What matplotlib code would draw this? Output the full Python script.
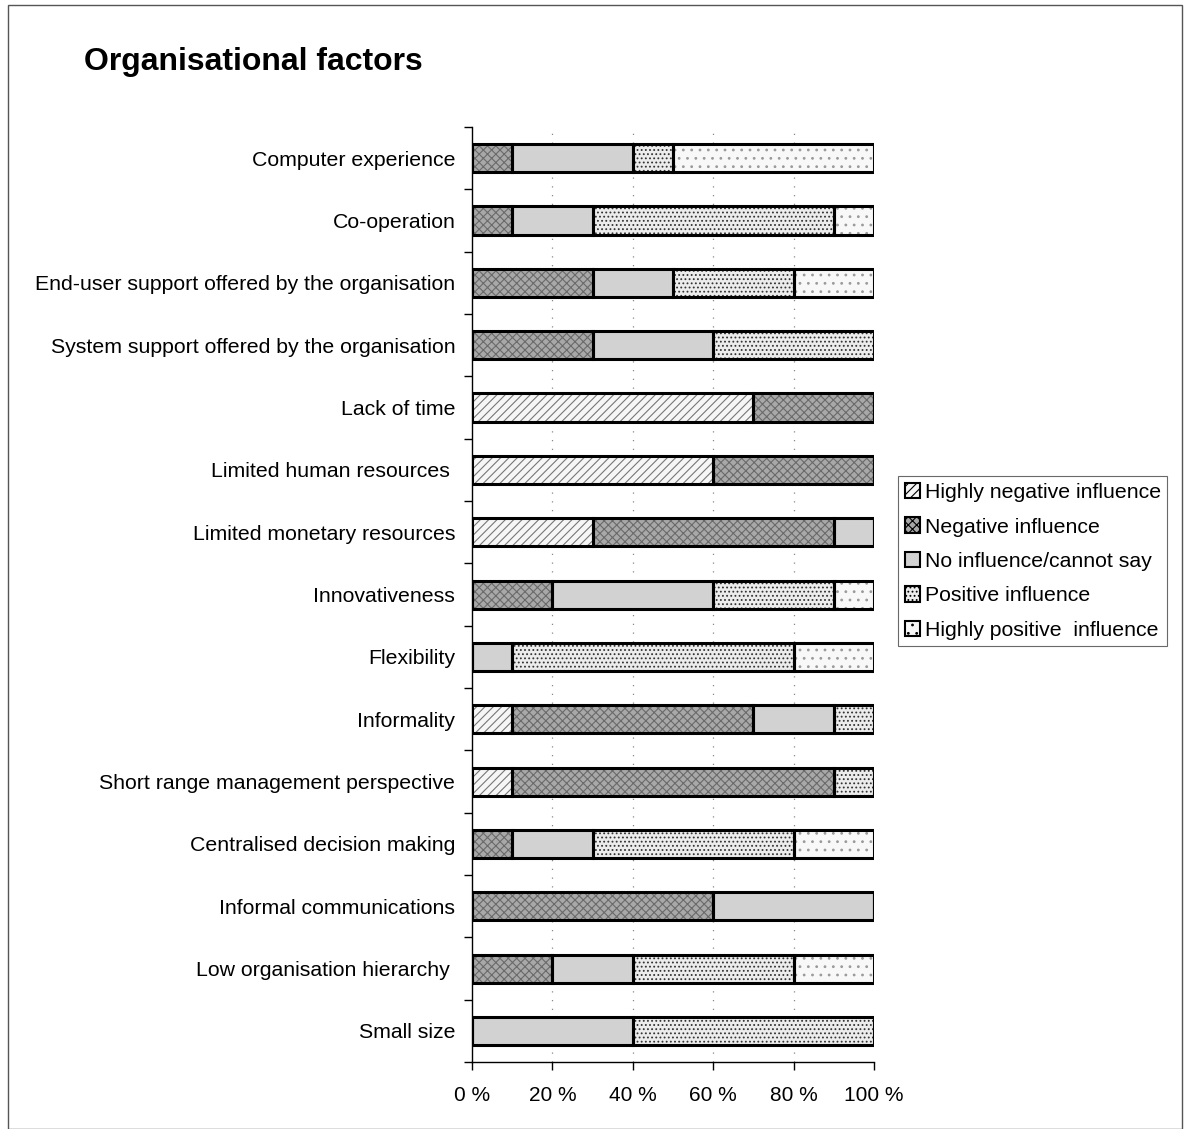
import matplotlib.pyplot as plt
import numpy as np
from matplotlib.patches import Patch, Rectangle

plt.rcParams['font.family'] = ['Liberation Sans', 'DejaVu Sans']
plt.rcParams['hatch.linewidth'] = 0.8

# Share of answers (%) per factor, listed top to bottom
categories = [
    "Computer experience",
    "Co-operation",
    "End-user support offered by the organisation",
    "System support offered by the organisation",
    "Lack of time",
    "Limited human resources ",
    "Limited monetary resources",
    "Innovativeness",
    "Flexibility",
    "Informality",
    "Short range management perspective",
    "Centralised decision making",
    "Informal communications",
    "Low organisation hierarchy ",
    "Small size",
]
highly_negative = [0, 0, 0, 0, 70, 60, 30, 0, 0, 10, 10, 0, 0, 0, 0]
negative = [10, 10, 30, 30, 30, 40, 60, 20, 0, 60, 80, 10, 60, 20, 0]
no_influence = [30, 20, 20, 30, 0, 0, 10, 40, 10, 20, 0, 20, 40, 20, 40]
positive = [10, 60, 30, 40, 0, 0, 0, 30, 70, 10, 10, 50, 0, 40, 60]
highly_positive = [50, 10, 20, 0, 0, 0, 0, 10, 20, 0, 0, 20, 0, 20, 0]

series_names = ["Highly negative influence", "Negative influence",
                "No influence/cannot say", "Positive influence",
                "Highly positive  influence"]
series = [highly_negative, negative, no_influence, positive, highly_positive]
x_ticks = [0, 20, 40, 60, 80, 100]

# fill, hatch pattern and hatch colour for each answer
styles = [
    ("#f6f6f6", "////", "#777777"),
    ("#a8a8a8", "xxxx", "#6a6a6a"),
    ("#d2d2d2", "", "#d2d2d2"),
    ("#ececec", "....", "#333333"),
    ("#f8f8f8", "..", "#9a9a9a"),
]

fig = plt.figure(figsize=(11.88, 11.29), dpi=100)
ax = fig.add_axes([0.3973, 0.0593, 0.3384, 0.8282])

y = np.arange(len(categories))
left = np.zeros(len(categories))
bar_h = 0.45
for values, (fc, hatch, hc) in zip(series, styles):
    values = np.array(values, dtype=float)
    ax.barh(y, values, left=left, height=bar_h, color=fc, hatch=hatch,
            edgecolor=hc, linewidth=0, zorder=2)
    ax.barh(y, values, left=left, height=bar_h, fill=False,
            edgecolor="black", linewidth=2.2, zorder=3)
    left += values

ax.set_xlim(0, 100)
ax.set_ylim(len(categories) - 0.5, -0.5)

ax.set_xticks(x_ticks)
ax.set_xticklabels([f"{t} %" for t in x_ticks], fontsize=15)
ax.tick_params(axis="x", direction="out", length=6, width=1, pad=11)

ax.set_yticks(y)
ax.set_yticklabels(categories, fontsize=15.3)
ax.set_yticks(np.arange(len(categories) + 1) - 0.5, minor=True)
ax.tick_params(axis="y", which="major", length=0, pad=12)
ax.tick_params(axis="y", which="minor", direction="out", length=6, width=1)

for x in x_ticks[1:-1]:
    ax.axvline(x, color="#888888", linestyle=(0, (1, 6)), linewidth=0.9, zorder=1)

for side in ["top", "right"]:
    ax.spines[side].set_visible(False)
for side in ["left", "bottom"]:
    ax.spines[side].set_linewidth(1)

handles = [Patch(facecolor=fc, hatch=hatch, edgecolor="black", linewidth=1.5)
           for fc, hatch, hc in styles]
leg = fig.legend(handles, series_names, loc="upper left",
                 bbox_to_anchor=(0.756, 0.578), fontsize=15.3, frameon=True,
                 fancybox=False, edgecolor="#444444", handlelength=0.75,
                 handleheight=0.75, handletextpad=0.2, labelspacing=0.72,
                 borderpad=0.3, borderaxespad=0)
leg.get_frame().set_linewidth(0.8)

fig.text(0.071, 0.945, "Organisational factors", fontsize=23, fontweight="bold",
         ha="left", va="center")

fig.patches.append(Rectangle((0.007, 0.0), 0.988, 0.996, transform=fig.transFigure,
                             fill=False, edgecolor="#555555", linewidth=1))

fig.savefig("out.png", dpi=100)
